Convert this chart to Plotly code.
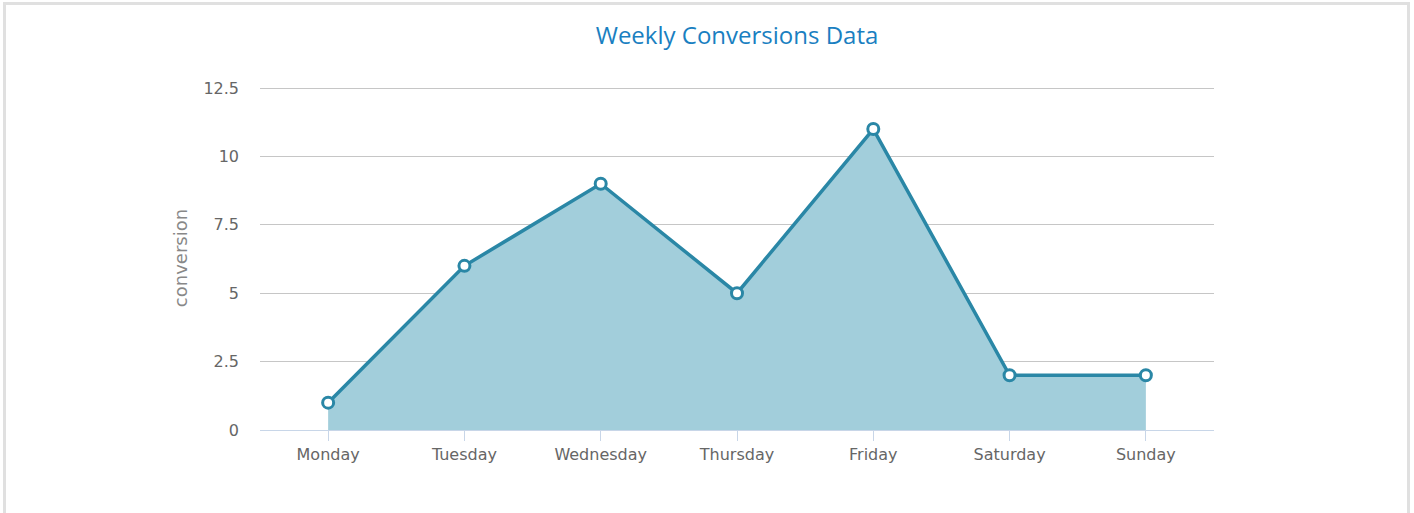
import plotly.graph_objects as go

days = ["Monday", "Tuesday", "Wednesday", "Thursday", "Friday", "Saturday", "Sunday"]
conversions = [1, 6, 9, 5, 11, 2, 2]
y_ticks = [0, 2.5, 5, 7.5, 10, 12.5]
y_tick_labels = ["0", "2.5", "5", "7.5", "10", "12.5"]

LINE = "#2a87a6"

fig = go.Figure()
fig.add_trace(go.Scatter(
    x=days, y=conversions,
    mode="lines+markers",
    fill="tozeroy",
    fillcolor="#a2cedb",
    line=dict(color=LINE, width=3.5),
    marker=dict(size=11, color="white", line=dict(color=LINE, width=3)),
    cliponaxis=False,
    showlegend=False,
))

W, H = 1414, 513
L, R, T, B = 260, 200, 86, 83
pw, ph = W - L - R, H - T - B
y_top = 12.5 * ph / (ph - 2)

def px_x(p):
    return (p - L) / pw

def px_y(p):
    return (H - B - p) / ph

fig.update_layout(
    width=W, height=H,
    margin=dict(l=L, r=R, t=T, b=B, autoexpand=False),
    paper_bgcolor="white",
    plot_bgcolor="white",
    font=dict(family="DejaVu Sans", color="#666666", size=12),
    title=dict(
        text="Weekly Conversions Data",
        x=0.5, xref="paper", xanchor="center",
        y=1 - 36 / H, yanchor="middle",
        font=dict(family="Open Sans, sans-serif", size=24, color="#1a7fc1"),
    ),
    xaxis=dict(
        type="category",
        range=[-0.5, 6.5],
        showgrid=False,
        showline=True, linecolor="#c8d6e8", linewidth=1,
        ticks="outside", ticklen=10, tickcolor="#c8d6e8", tickwidth=1,
        tickfont=dict(family="DejaVu Sans", size=16, color="#666666"),
        zeroline=False,
    ),
    yaxis=dict(
        range=[0, y_top],
        tickvals=y_ticks, ticktext=y_tick_labels,
        showgrid=True, gridcolor="#c6c6c6", gridwidth=1,
        zeroline=False,
        showline=False,
        ticks="",
        ticklabelstandoff=20,
        tickfont=dict(family="DejaVu Sans", size=16, color="#666666"),
        title=dict(text="conversion", standoff=11,
                   font=dict(family="DejaVu Sans", size=18, color="#888888")),
    ),
    shapes=[
        dict(type="rect", xref="paper", yref="paper",
             x0=px_x(4.5), x1=px_x(1408.5), y0=px_y(3.5), y1=px_y(H + 10),
             line=dict(color="#e0e0e0", width=3), fillcolor="rgba(0,0,0,0)", layer="below"),
    ],
)

fig.write_html("out.html", config={"displayModeBar": False},
               post_script="document.body.style.margin='0';document.body.style.overflow='hidden';")
